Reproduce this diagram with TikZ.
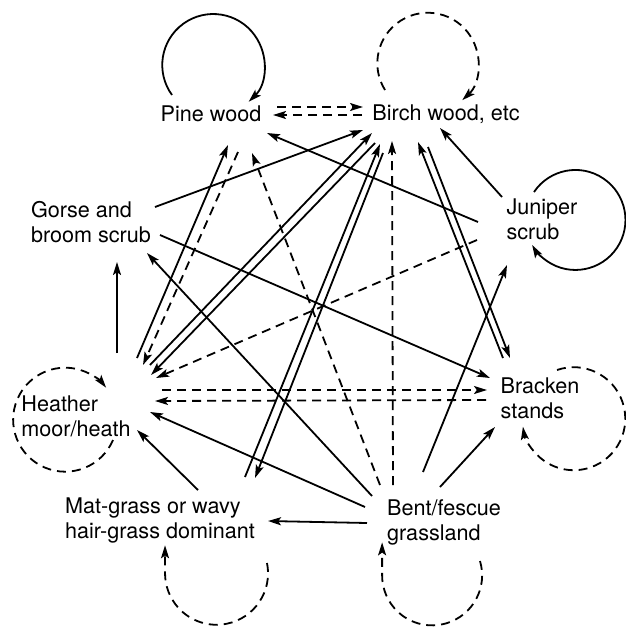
\documentclass[tikz,border=0pt]{standalone}
\usepackage{fontspec}
\setmainfont{TeX Gyre Heros}
\usepackage{tikz}
\usetikzlibrary{arrows.meta, calc}

\tikzset{
  rotulo/.style={inner sep=0pt, align=left, font=\fontsize{10.8}{12.5}\selectfont},
  seta/.style={-{Stealth[length=6.5pt, width=4pt, inset=1.4pt]}, line width=0.9pt},
  tracejado/.style={seta, dash pattern=on 4.5pt off 3pt},
}

\begin{document}
\begin{tikzpicture}[x=0.5pt, y=-0.5pt]
% --- COORDENADAS EM PIXELS, EIXO Y PARA BAIXO ---
\useasboundingbox (0,0) rectangle (626,627);

% LAYER 1: Comunidades
\node[rotulo] (pine) at (211,114) {Pine wood};
\node[rotulo] (birch) at (446,114) {Birch wood, etc};
\node[rotulo] (gorse) at (91,222) {Gorse and\\broom scrub};
\node[rotulo] (juniper) at (542,219) {Juniper\\scrub};
\node[rotulo] (heath) at (76,416) {Heather\\moor/heath};
\node[rotulo] (bracken) at (540,398) {Bracken\\stands};
\node[rotulo] (matgrass) at (160,520) {Mat-grass or wavy\\hair-grass dominant};
\node[rotulo] (bent) at (444,522) {Bent/fescue\\grassland};

% LAYER 2: Ciclos (permanencia)
\draw[seta] ($(pine)+(-39,-19)$) arc[start angle=144, end angle=406, radius=51];
\draw[tracejado] ($(birch)+(-61,-24)$) arc[start angle=148, end angle=407, radius=50.5];
\draw[seta] ($(juniper)+(-8,-27)$) arc[start angle=214, end angle=510, radius=50];
\draw[tracejado] ($(heath)+(37,24)$) arc[start angle=23, end angle=322, radius=52];
\draw[tracejado] ($(bracken)+(17,-28)$) arc[start angle=251, end angle=531, radius=51.5];
\draw[tracejado] ($(matgrass)+(107,43)$) arc[start angle=-11.5, end angle=180, radius=51.5] -- ++(0,-28);
\draw[tracejado] ($(bent)+(36,39)$) arc[start angle=-16.7, end angle=180, radius=50] -- ++(0,-33);

% LAYER 3: Transicoes
\draw[tracejado] ($(pine)+(66,-7)$) -- ($(birch)+(-83,-7)$);
\draw[tracejado] ($(birch)+(-84,1)$) -- ($(pine)+(62,1)$);

\draw[seta] ($(gorse)+(64,-15)$) -- ($(birch)+(-83,16)$);
\draw[seta] ($(gorse)+(69,13)$) -- ($(bracken)+(-50,-20)$);

\draw[seta] ($(juniper)+(-64,3)$) -- ($(pine)+(56,19)$);
\draw[seta] ($(juniper)+(-40,-22)$) -- ($(birch)+(-6,14)$);
\draw[tracejado] ($(juniper)+(-65,21)$) -- ($(heath)+(80,-38)$);

\draw[seta] ($(heath)+(41,-63)$) -- ($(gorse)+(26,40)$);
\draw[seta] ($(heath)+(61,-58)$) -- ($(pine)+(17,31)$);
\draw[tracejado] ($(pine)+(27,38)$) -- ($(heath)+(67,-51)$);
\draw[seta] ($(heath)+(74,-51)$) -- ($(birch)+(-74,19)$);
\draw[seta] ($(birch)+(-71,29)$) -- ($(heath)+(75,-41)$);
\draw[tracejado] ($(heath)+(86,-26)$) -- ($(bracken)+(-53,-8)$);
\draw[tracejado] ($(bracken)+(-54,2)$) -- ($(heath)+(79,-15)$);

\draw[seta] ($(matgrass)+(38,-30)$) -- ($(heath)+(61,14)$);
\draw[seta] ($(matgrass)+(85,-43)$) -- ($(birch)+(-66,30)$);
\draw[seta] ($(birch)+(-63,39)$) -- ($(matgrass)+(95,-42)$);

\draw[seta] ($(bracken)+(-37,-40)$) -- ($(birch)+(-28,28)$);
\draw[seta] ($(birch)+(-18,33)$) -- ($(bracken)+(-30,-40)$);

\draw[seta] ($(bent)+(-72,-26)$) -- ($(gorse)+(56,31)$);
\draw[seta] ($(bent)+(-79,-15)$) -- ($(heath)+(74,-4)$);
\draw[seta] ($(bent)+(-77,1)$) -- ($(matgrass)+(108,1)$);
\draw[tracejado] ($(bent)+(-64,-37)$) -- ($(pine)+(41,39)$);
\draw[tracejado] ($(bent)+(-51,-37)$) -- ($(birch)+(-54,27)$);
\draw[seta] ($(bent)+(-21,-50)$) -- ($(juniper)+(-35,46)$);
\draw[seta] ($(bent)+(-4,-35)$) -- ($(bracken)+(-45,29)$);
\end{tikzpicture}
\end{document}
